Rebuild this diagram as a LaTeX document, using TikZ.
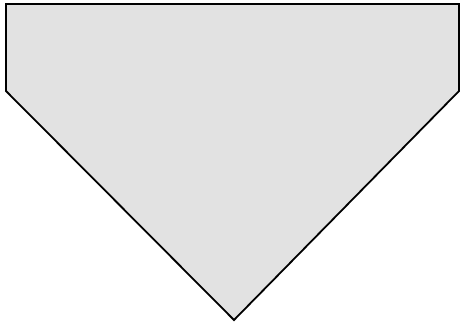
\documentclass[tikz,border=0pt]{standalone}
\definecolor{platefill}{RGB}{226,226,226}
\tikzset{plate/.style={draw=black,fill=platefill,line width=1.8pt,line join=miter}}
\begin{document}
\begin{tikzpicture}[x=1pt,y=-1pt]
\useasboundingbox (0,0) rectangle (462,327);
\draw[plate] (6,4) -- (459,4) -- (459,91) -- (234,320) -- (6,91) -- cycle;
\end{tikzpicture}
\end{document}
